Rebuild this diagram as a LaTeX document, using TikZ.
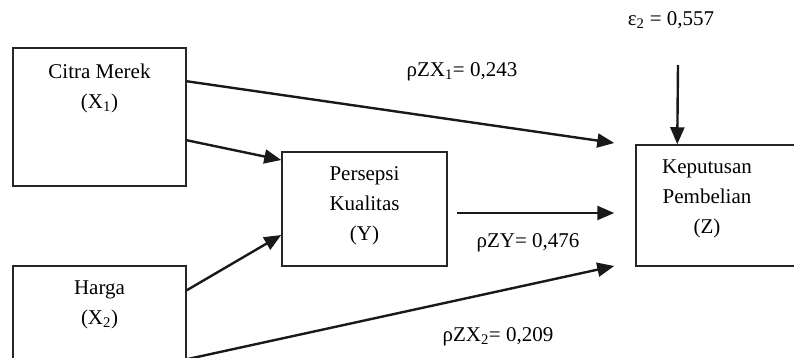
\documentclass[tikz,border=0pt]{standalone}
\usepackage{fontspec}
\setmainfont{Liberation Serif}
\usetikzlibrary{arrows.meta}
\tikzset{
  boxnode/.style={draw=black!85, line width=1.5pt, minimum width=#1, inner sep=0pt},
  txt/.style={align=center, inner sep=0pt, font=\fontsize{21}{30}\selectfont},
  arr/.style={line width=2.4pt, -{Triangle[length=17pt,width=14pt]}, black!90},
}
\begin{document}
\begin{tikzpicture}[x=1pt,y=-1pt]
\useasboundingbox (0,0) rectangle (794,358);
\clip (0,0) rectangle (794,358);
% boxes
\node[boxnode=173pt, minimum height=138pt] (x1) at (99.5,117) {};
\node[boxnode=173pt, minimum height=138pt] (x2) at (99.5,335) {};
\node[boxnode=165pt, minimum height=114pt] (y) at (364.5,209) {};
\node[boxnode=170pt, minimum height=121pt] (z) at (721,205.5) {};
% box texts
\node[txt] (x1t) at (99.5,88) {Citra Merek\\(X\textsubscript{1})};
\node[txt] (x2t) at (99.5,305) {Harga\\(X\textsubscript{2})};
\node[txt] (yt) at (364.5,206) {Persepsi\\Kualitas\\(Y)};
\node[txt] (zt) at (707,199) {Keputusan\\Pembelian\\(Z)};
% coefficient labels
\node[txt] (eps) at (671,20) {ε\textsubscript{2} = 0,557};
\node[txt] (l1) at (462,72) {ρZX\textsubscript{1}= 0,243};
\node[txt] (l2) at (528,243) {ρZY= 0,476};
\node[txt] (l3) at (498,337) {ρZX\textsubscript{2}= 0,209};
% arrows
\coordinate (etop) at (678,65);
\draw[arr] ([yshift=-34pt]x1.north east) -- ([xshift=-21pt,yshift=62.5pt]z.west);
\draw[arr] ([yshift=-93pt]x1.north east) -- ([yshift=49pt]y.west);
\draw[arr] ([yshift=-25pt]x2.north east) -- ([yshift=-26pt]y.west);
\draw[arr] ([xshift=9pt,yshift=-4pt]y.east) -- ([xshift=-21pt,yshift=-7.5pt]z.west);
\draw[arr] ([yshift=-94pt]x2.north east) -- ([xshift=-21pt,yshift=-60.5pt]z.west);
\draw[arr] (etop) -- ([xshift=42pt]z.north west);
\end{tikzpicture}
\end{document}
